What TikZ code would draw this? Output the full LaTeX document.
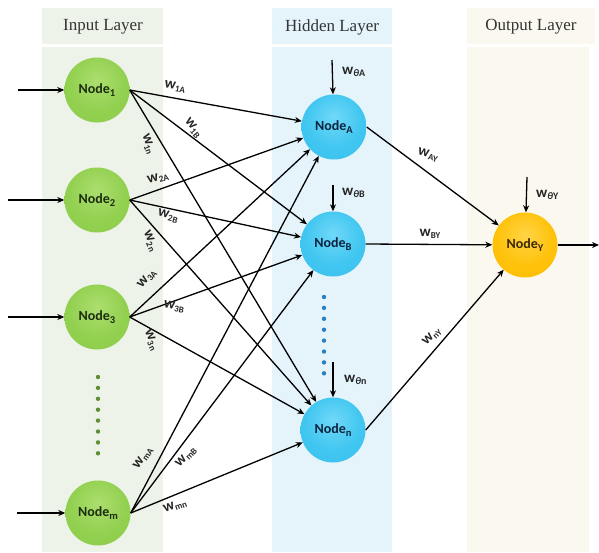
\documentclass[tikz,border=0pt]{standalone}
\usepackage{fontspec}
\setmainfont{Liberation Serif}
\newfontfamily\calib{Carlito}
\usetikzlibrary{arrows.meta}
\definecolor{inbg}{HTML}{EDF3E9}
\definecolor{hidbg}{HTML}{E5F4FB}
\definecolor{outbg}{HTML}{FBF9EF}
\definecolor{gdot}{HTML}{5E8F35}
\definecolor{bdot}{HTML}{2A7FC0}
\definecolor{gtxt}{HTML}{1C2E10}
\definecolor{btxt}{HTML}{0B2540}
\definecolor{ytxt}{HTML}{3A2800}
\pgfdeclareradialshading{greenball}{\pgfpoint{0bp}{8bp}}{color(0bp)=(rgb,255:red,172;green,222;blue,110); color(22bp)=(rgb,255:red,146;green,208;blue,80); color(44bp)=(rgb,255:red,140;green,202;blue,74); color(56bp)=(rgb,255:red,116;green,178;blue,54); color(70bp)=(rgb,255:red,116;green,178;blue,54)}
\pgfdeclareradialshading{blueball}{\pgfpoint{0bp}{8bp}}{color(0bp)=(rgb,255:red,112;green,216;blue,248); color(22bp)=(rgb,255:red,64;green,198;blue,240); color(44bp)=(rgb,255:red,56;green,192;blue,236); color(56bp)=(rgb,255:red,30;green,166;blue,220); color(70bp)=(rgb,255:red,30;green,166;blue,220)}
\pgfdeclareradialshading{yellowball}{\pgfpoint{0bp}{8bp}}{color(0bp)=(rgb,255:red,255;green,212;blue,70); color(22bp)=(rgb,255:red,255;green,194;blue,10); color(44bp)=(rgb,255:red,252;green,188;blue,0); color(56bp)=(rgb,255:red,236;green,164;blue,0); color(70bp)=(rgb,255:red,236;green,164;blue,0)}
\newcommand\wl[1]{w\raisebox{-0.35ex}{\fontsize{9}{9}\selectfont #1}}
\newcommand\wth[1]{w\raisebox{-0.35ex}{\fontsize{10}{10}\selectfont\itshape θ\upshape #1}}
\newcommand\nd[1]{Node\raisebox{-0.4ex}{\fontsize{10.5}{10.5}\selectfont #1}}
\begin{document}
\begin{tikzpicture}[x=1pt,y=-1pt,
  neuron/.style={circle, minimum size=65pt, inner sep=0pt,
    font=\calib\bfseries\fontsize{14}{14}\selectfont},
  innode/.style={neuron, shading=greenball, text=gtxt},
  hidnode/.style={neuron, shading=blueball, text=btxt},
  outnode/.style={neuron, shading=yellowball, text=ytxt},
  conn/.style={draw=black, line width=1.3pt, -{Stealth[length=7pt,width=6pt]}},
  wlab/.style={font=\calib\bfseries\fontsize{15}{15}\selectfont, inner sep=0pt, text=black!85},
  title/.style={font=\fontsize{17}{17}\selectfont, text=black!80},
  gdotst/.style={fill=gdot, draw=none},
  bdotst/.style={fill=bdot, draw=none}
]
\useasboundingbox (0,0) rectangle (599,552);
% bands
\fill[inbg] (42,8) rectangle (163,44);
\fill[inbg] (42,47) rectangle (163,552);
\fill[hidbg] (272,8) rectangle (392,44);
\fill[hidbg] (272,47) rectangle (392,552);
\fill[outbg] (467,8) rectangle (595,44);
\fill[outbg] (467,47) rectangle (589,552);
\node[title] (tin) at (103,27) {Input Layer};
\node[title] (thid) at (332,27) {Hidden Layer};
\node[title] (tout) at (531,27) {Output Layer};
% nodes
\node[innode] (n1) at (97,90) {\nd{1}};
\node[innode] (n2) at (97,200) {\nd{2}};
\node[innode] (n3) at (97,317) {\nd{3}};
\node[innode] (nm) at (98,513) {\nd{m}};
\node[hidnode] (hA) at (334,127) {\nd{A}};
\node[hidnode] (hB) at (333,244) {\nd{B}};
\node[hidnode] (hn) at (333,430) {\nd{n}};
\node[outnode] (oY) at (525,245) {\nd{Y}};
% dots
\foreach \i in {0,...,7} {
  \fill[gdotst] (98,377+10.9*\i) circle (2.2pt);
  \fill[bdotst] (324,297+10.9*\i) circle (2.2pt);
}
% inputs
\coordinate (i1) at (18,90);
\coordinate (i2) at (8,200);
\coordinate (i3) at (8,317);
\coordinate (im) at (17,513);
\draw[conn] (i1) -- (n1);
\draw[conn] (i2) -- (n2);
\draw[conn] (i3) -- (n3);
\draw[conn] (im) -- (nm);
% input to hidden
\foreach \s in {n1,n2,n3,nm} {
  \foreach \t in {hA,hB,hn} {
    \draw[conn] (\s.east) -- (\t);
  }
}
% hidden to output
\draw[conn] (hA.east) -- (oY);
\draw[conn] (hB.east) -- (oY);
\draw[conn] (hn.east) -- (oY);
\coordinate (yout) at (599,245);
\draw[conn] (oY.east) -- (yout);
% biases
\coordinate (bA) at (332,60);
\coordinate (bB) at (333,185);
\coordinate (bn) at (333,362);
\coordinate (bY) at (527,177);
\draw[conn] (bA) -- (hA);
\draw[conn] (bB) -- (hB);
\draw[conn] (bn) -- (hn);
\draw[conn] (bY) -- (oY);
\node[wlab, anchor=west] (lA) at (342,72) {\wth{A}};
\node[wlab, anchor=west] (lB) at (342,193) {\wth{B}};
\node[wlab, anchor=west] (ln) at (344,380) {\wth{n}};
\node[wlab, anchor=west] (lY) at (536,195) {\wth{Y}};
% weight labels
\node[wlab, rotate=-10] (w1A) at (175,87) {\wl{1A}};
\node[wlab, rotate=-50] (w1B) at (193,128) {\wl{1B}};
\node[wlab, rotate=-70] (w1n) at (148,144) {\wl{1n}};
\node[wlab, rotate=15] (w2A) at (158,178) {\wl{2A}};
\node[wlab, rotate=-15] (w2B) at (168,216) {\wl{2B}};
\node[wlab, rotate=-65] (w2n) at (150,241) {\wl{2n}};
\node[wlab, rotate=50] (w3A) at (147,279) {\wl{3A}};
\node[wlab, rotate=-10] (w3B) at (174,307) {\wl{3B}};
\node[wlab, rotate=-65] (w3n) at (151,340) {\wl{3n}};
\node[wlab, rotate=55] (wmA) at (143,458) {\wl{mA}};
\node[wlab, rotate=45] (wmB) at (186,457) {\wl{mB}};
\node[wlab, rotate=20] (wmn) at (175,506) {\wl{mn}};
\node[wlab, rotate=-15] (wAY) at (428,155) {\wl{AY}};
\node[wlab] (wBY) at (430,234) {\wl{BY}};
\node[wlab, rotate=45] (wnY) at (432,337) {\wl{nY}};
\end{tikzpicture}
\end{document}
